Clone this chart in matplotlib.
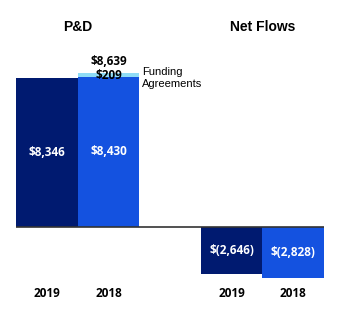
import matplotlib.pyplot as plt

years = ["2019", "2018", "2019", "2018"]
pd_values = [8346, 8430]
funding = [0, 209]
net_flows = [-2646, -2828]
totals = ["$8,639"]
value_labels = ["$8,346", "$8,430", "$(2,646)", "$(2,828)"]

navy = "#001a70"
blue = "#1452e0"
light = "#8fdcf6"


def main():
    fig = plt.figure(figsize=(3.4, 3.28), dpi=100)
    ax = fig.add_axes([0.047, 0.1445, 0.906, 0.653])

    pos_pd = [0, 1]
    pos_nf = [3, 4]
    colors = [navy, blue]

    ax.bar(pos_pd, pd_values, width=1.0, color=colors, zorder=2)
    ax.bar(pos_pd, funding, bottom=pd_values, width=1.0, color=light, zorder=2)
    ax.bar(pos_nf, net_flows, width=1.0, color=colors, zorder=2)
    ax.axhline(0, color="#333333", lw=1.2, zorder=3)

    ax.set_xlim(-0.5, 4.5)
    ax.set_ylim(-3000, 9000)
    ax.axis("off")

    cal = ["Open Sans", "DejaVu Sans"]
    arial = ["Liberation Sans", "DejaVu Sans"]

    for p, v, lab in zip(pos_pd + pos_nf, pd_values + net_flows, value_labels):
        ax.text(p, v / 2, lab, color="white", ha="center", va="center",
                fontsize=8.5, fontweight="bold", family=cal)

    ax.text(1, pd_values[1] + funding[1] + 650, totals[0], ha="center",
            va="center", fontsize=8.5, fontweight="bold", family=cal)
    ax.text(1, pd_values[1] + 80, "$209", ha="center", va="center",
            fontsize=8.5, fontweight="bold", family=cal)
    ax.text(1.55, pd_values[1] - 80, "Funding\nAgreements", ha="left",
            va="center", fontsize=8, family=arial, linespacing=1.15)

    for p, y in zip(pos_pd + pos_nf, years):
        ax.text(p, -3750, y, ha="center", va="center", fontsize=8.5,
                fontweight="bold", family=cal)

    ax.text(0.5, 11200, "P&D", ha="center", va="center", fontsize=10,
            fontweight="bold", family=arial)
    ax.text(3.5, 11200, "Net Flows", ha="center", va="center", fontsize=10,
            fontweight="bold", family=arial)

    fig.savefig("out.png", dpi=100)


if __name__ == '__main__':
    main()
